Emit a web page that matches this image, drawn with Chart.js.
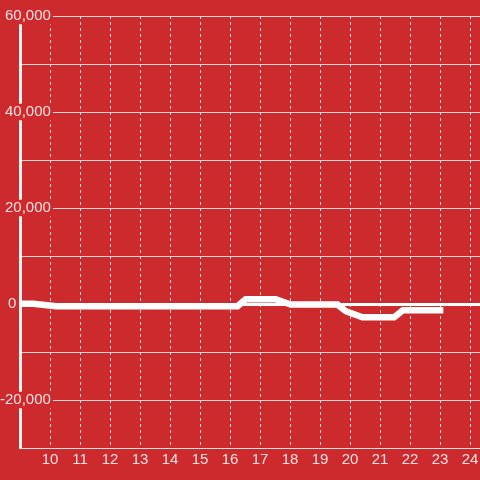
<!DOCTYPE html>
<html>
<head>
<meta charset="utf-8">
<script src="https://cdn.jsdelivr.net/npm/chart.js@4/dist/chart.umd.min.js"></script>
<style>
  body { margin: 0; background: #cd2a2e; }
  canvas { display: block; }
</style>
</head>
<body>
<canvas id="chart-line" width="480" height="480"></canvas>
<script>
  // hours and values
  let hours = [9, 9.45, 10.2, 16.25, 16.52, 17.52, 18.02, 19.58, 19.86, 20.41, 21.47, 21.76, 23];
  let values = [50, 50, -480, -480, 1000, 1000, -120, -120, -1500, -2750, -2750, -1300, -1300];

  let yMin = -30000, yMax = 60000, yStep = 10000, yLabelStep = 20000;
  let xMin = 9, xMax = 24.33, xFirstTick = 10;

  let points = hours.map(function(h, i) { return {x: h, y: values[i]}; });

  let font = {family: 'Liberation Sans, Arial, sans-serif', size: 15, lineHeight: 1.1};
  let labelColor = 'rgba(255,255,255,0.86)';

  let ctx = document.getElementById('chart-line');
  let myChart = new Chart(ctx, {
    type: 'line',
    data: {
      datasets: [{
        data: points,
        borderColor: '#ffffff',
        borderWidth: 6.5,
        borderCapStyle: 'square',
        pointRadius: 0,
        tension: 0,
        fill: false
      }]
    },
    options: {
      responsive: false,
      animation: false,
      layout: {padding: {top: 16, right: 0, bottom: 0, left: 0}},
      plugins: {legend: {display: false}, tooltip: {enabled: false}},
      scales: {
        x: {
          type: 'linear',
          min: xMin,
          max: xMax,
          afterBuildTicks: function(scale) {
            scale.ticks = scale.ticks.filter(function(t) {
              return Number.isInteger(t.value) && t.value >= xFirstTick;
            });
          },
          afterFit: function(scale) { scale.height = 32; },
          ticks: {
            stepSize: 1,
            includeBounds: false,
            padding: 0,
            color: labelColor,
            font: {family: font.family, size: 15, lineHeight: 1.6}
          },
          grid: {color: 'rgba(235,235,235,0.9)', lineWidth: 1, drawTicks: false},
          border: {color: 'rgba(225,225,225,0.95)', width: 1, dash: [3, 3]}
        },
        y: {
          min: yMin,
          max: yMax,
          afterFit: function(scale) { scale.width = 20; },
          ticks: {
            stepSize: yStep,
            mirror: true,
            crossAlign: 'far',
            padding: -20,
            color: labelColor,
            font: font,
            showLabelBackdrop: function(c) {
              return c.tick && c.tick.value !== 0 && c.tick.value % yLabelStep === 0;
            },
            backdropColor: '#cd2a2e',
            backdropPadding: {x: 2, y: 0},
            callback: function(v) {
              if (v % yLabelStep !== 0) return '';
              if (v === 0) return '0        \u200a';
              return v.toLocaleString('en-US');
            }
          },
          grid: {
            drawTicks: false,
            color: function(c) { return c.tick && c.tick.value === 0 ? '#ffffff' : 'rgba(225,225,225,0.95)'; },
            lineWidth: function(c) { return c.tick && c.tick.value === 0 ? 3 : 1; }
          },
          border: {color: '#f2f2f2', width: 3}
        }
      }
    }
  });
</script>
</body>
</html>
